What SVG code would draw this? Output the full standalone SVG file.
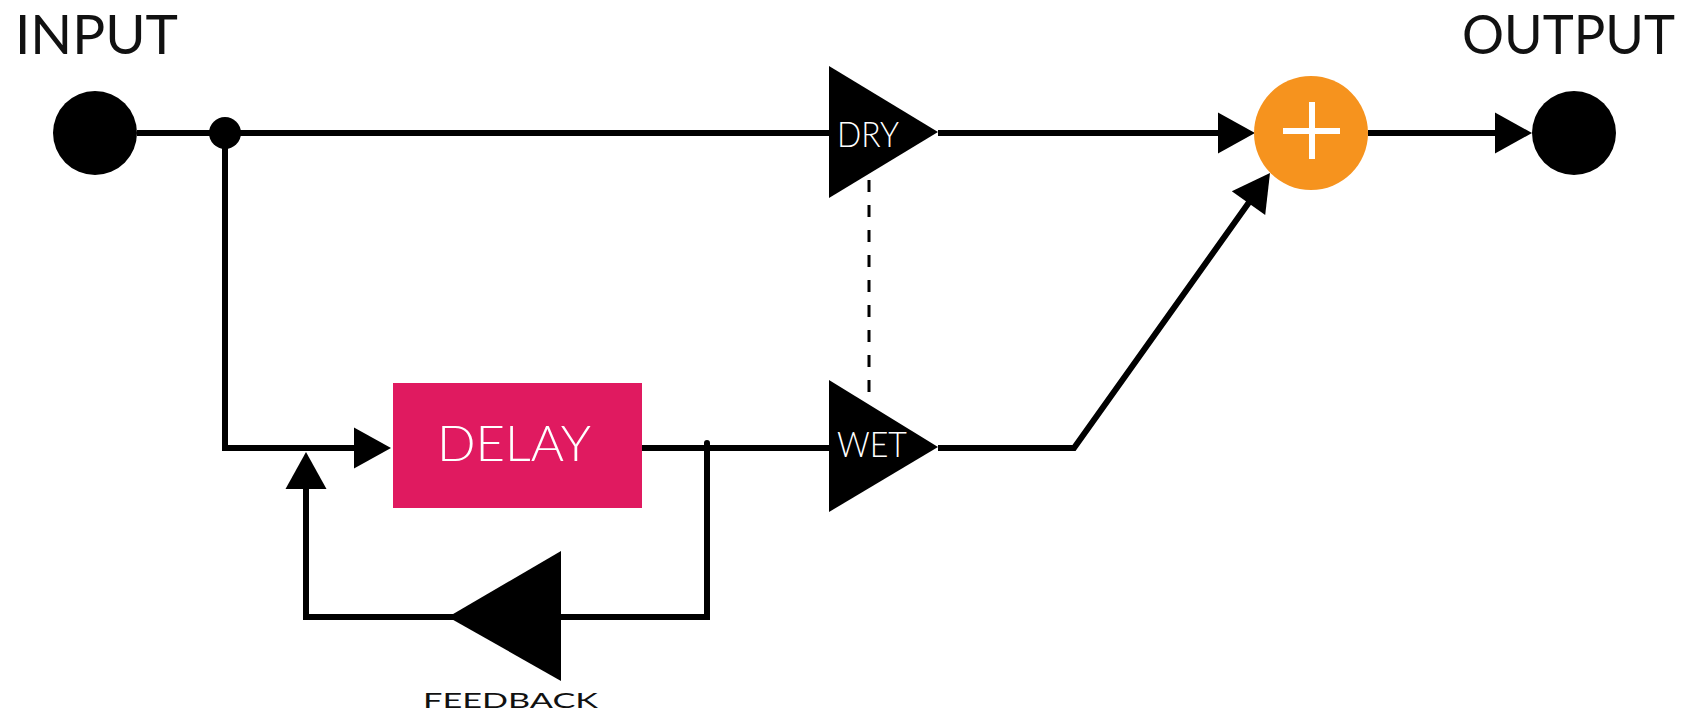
<svg xmlns="http://www.w3.org/2000/svg" width="1701" height="721" viewBox="0 0 1701 721">
  <style>
    .wire { fill: none; stroke: #000; stroke-width: 6; stroke-linejoin: miter; }
    .dash { fill: none; stroke: #000; stroke-width: 3; stroke-dasharray: 12 13; }
    .head { fill: #000; stroke: none; }
    .dot { fill: #000; }
    .amp { fill: #000; }
    .label { font-family: Lato, "Noto Sans", "Liberation Sans", sans-serif; font-weight: 400; fill: #111; }
    .inner { font-family: Lato, "Noto Sans", "Liberation Sans", sans-serif; font-weight: 300; fill: #fff; }
  </style>

  <rect width="1701" height="721" fill="#fff"/>

  <!-- signal paths; each arrowhead is a 37 x 41 filled triangle -->
  <g id="connectors">
    <path class="wire" d="M137,133 H829"/>
    <path class="wire" d="M225,133 V448 H381"/>
    <polygon class="head" points="354,427.5 391,448 354,468.5"/>
    <path class="wire" d="M642,448 H829"/>
    <path class="wire" d="M707,443 V617 H306 V462" stroke-linecap="round"/>
    <polygon class="head" points="285.5,489 306,452 326.5,489"/>
    <path class="wire" d="M938,133 H1245"/>
    <polygon class="head" points="1218,112.5 1255,133 1218,153.5"/>
    <path class="wire" d="M938,448 H1074 L1264.2,181.1"/>
    <polygon class="head" points="1231.8,191.2 1270,173 1265.2,215"/>
    <path class="wire" d="M1368,133 H1522"/>
    <polygon class="head" points="1495,112.5 1532,133 1495,153.5"/>
    <path class="dash" d="M869,180 V400"/>
  </g>

  <g id="input">
    <circle class="dot" cx="95" cy="133" r="42"/>
    <text class="label" x="15" y="54" font-size="55" textLength="163" lengthAdjust="spacingAndGlyphs">INPUT</text>
  </g>

  <g id="split">
    <circle class="dot" cx="225" cy="133" r="16"/>
  </g>

  <g id="dry">
    <polygon class="amp" points="829,66 829,198 938,132"/>
    <text class="inner" x="837" y="147" font-size="36" textLength="62" lengthAdjust="spacingAndGlyphs">DRY</text>
  </g>

  <g id="delay">
    <rect x="393" y="383" width="249" height="125" fill="#E01A60"/>
    <text class="inner" x="437" y="461" font-size="50" textLength="154" lengthAdjust="spacingAndGlyphs">DELAY</text>
  </g>

  <g id="wet">
    <polygon class="amp" points="829,380 829,512 938,447"/>
    <text class="inner" x="837" y="457" font-size="35" textLength="70" lengthAdjust="spacingAndGlyphs">WET</text>
  </g>

  <g id="feedback">
    <polygon class="amp" points="561,551 561,681 448,617"/>
    <text class="label" x="423" y="708" font-size="22" textLength="175" lengthAdjust="spacingAndGlyphs">FEEDBACK</text>
  </g>

  <g id="sum">
    <circle cx="1311" cy="133" r="57" fill="#F6931E"/>
    <path d="M1283,131 H1340 M1312,102 V159" stroke="#fff" stroke-width="6" fill="none"/>
  </g>

  <g id="output">
    <circle class="dot" cx="1574" cy="133" r="42"/>
    <text class="label" x="1462" y="54" font-size="55" textLength="213" lengthAdjust="spacingAndGlyphs">OUTPUT</text>
  </g>
</svg>
